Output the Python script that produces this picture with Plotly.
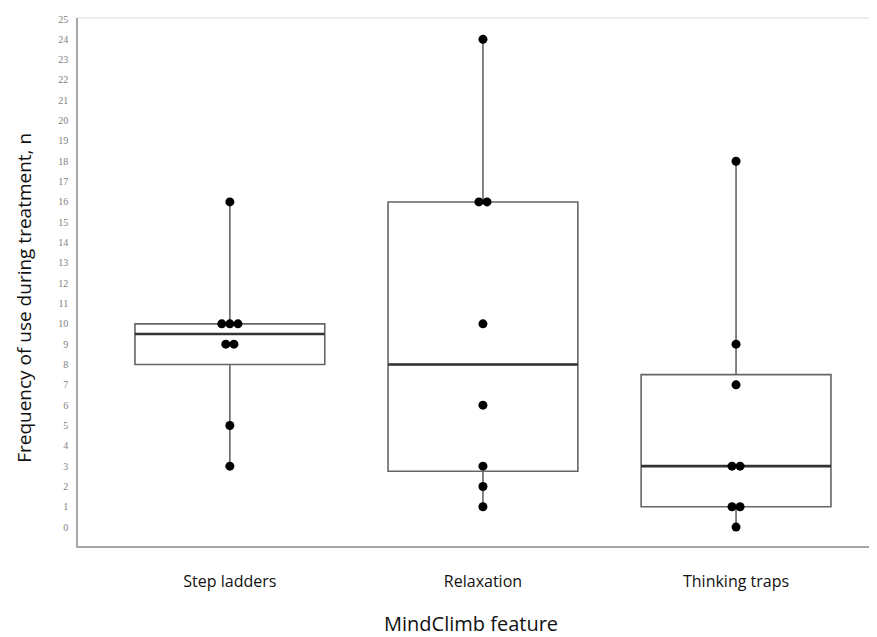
import numpy as np
import plotly.graph_objects as go

categories = ["Step ladders", "Relaxation", "Thinking traps"]
step_ladders = [16, 10, 10, 10, 9, 9, 5, 3]
relaxation = [24, 16, 16, 10, 6, 3, 2, 1]
thinking_traps = [18, 9, 7, 3, 3, 1, 1, 0]
series = [step_ladders, relaxation, thinking_traps]
y_ticks = list(range(0, 26))
x_title = "MindClimb feature"
y_title = "Frequency of use during treatment, n"

BOX_W = 0.75
DOT_STEP = 0.032
PAGE_OFF = 8  # default body margin of the html page
TITLE_FONT = dict(family="Open Sans, Liberation Sans, sans-serif", color="#111111")

fig = go.Figure()

for i, vals in enumerate(series):
    arr = np.array(vals, dtype=float)
    q1, med, q3 = np.percentile(arr, [25, 50, 75])
    fig.add_trace(go.Box(
        x=[i], q1=[q1], median=[med], q3=[q3],
        lowerfence=[arr.min()], upperfence=[arr.max()],
        boxpoints=False, whiskerwidth=0, width=BOX_W, fillcolor="white",
        line=dict(color="#666666", width=1.6), showlegend=False, hoverinfo="skip",
    ))
    fig.add_trace(go.Scatter(
        x=[i - BOX_W / 2, i + BOX_W / 2], y=[med, med], mode="lines",
        line=dict(color="#333333", width=2.6), showlegend=False, hoverinfo="skip",
    ))
    xs, ys = [], []
    uniq, counts = np.unique(vals, return_counts=True)
    for v, k in zip(uniq, counts):
        for j in range(k):
            xs.append(i + (j - (k - 1) / 2) * DOT_STEP)
            ys.append(v)
    fig.add_trace(go.Scatter(
        x=xs, y=ys, mode="markers", marker=dict(color="black", size=9),
        showlegend=False, hoverinfo="skip",
    ))

fig.add_shape(type="line", xref="paper", yref="paper", x0=0, x1=1, y0=1, y1=1,
              line=dict(color="#d9d9d9", width=1))

fig.add_annotation(text=y_title, xref="paper", yref="paper", x=0, y=0.47, xshift=-54,
                   xanchor="center", yanchor="middle", textangle=-90, showarrow=False,
                   font=dict(size=19, **TITLE_FONT))
fig.add_annotation(text=x_title, xref="paper", yref="paper", x=0.4925, y=0, yshift=-77,
                   xanchor="center", yanchor="middle", showarrow=False,
                   font=dict(size=20, **TITLE_FONT))

W, H = 877 - PAGE_OFF, 637 - PAGE_OFF
fig.update_layout(
    width=W, height=H,
    margin=dict(l=78 - PAGE_OFF, r=W - (876 - PAGE_OFF), t=18 - PAGE_OFF, b=H - (546 - PAGE_OFF)),
    paper_bgcolor="white", plot_bgcolor="white",
    xaxis=dict(
        range=[-0.60, 2.553], tickvals=list(range(len(categories))), ticktext=categories,
        showgrid=False, zeroline=False, showline=True, linecolor="#a6a6a6", linewidth=2,
        ticks="", ticklabelstandoff=20, automargin=False,
        tickfont=dict(family="Open Sans, Liberation Sans, sans-serif", size=16, color="#111111"),
    ),
    yaxis=dict(
        range=[-0.93, 25.05], tickvals=y_ticks, ticktext=[str(t) for t in y_ticks],
        showgrid=False, zeroline=False, showline=True, linecolor="#a6a6a6", linewidth=1.5,
        ticks="", ticklabelstandoff=6, automargin=False,
        tickfont=dict(family="Liberation Serif, DejaVu Serif, serif", size=10, color="#808080"),
    ),
)

fig.write_html("out.html")
